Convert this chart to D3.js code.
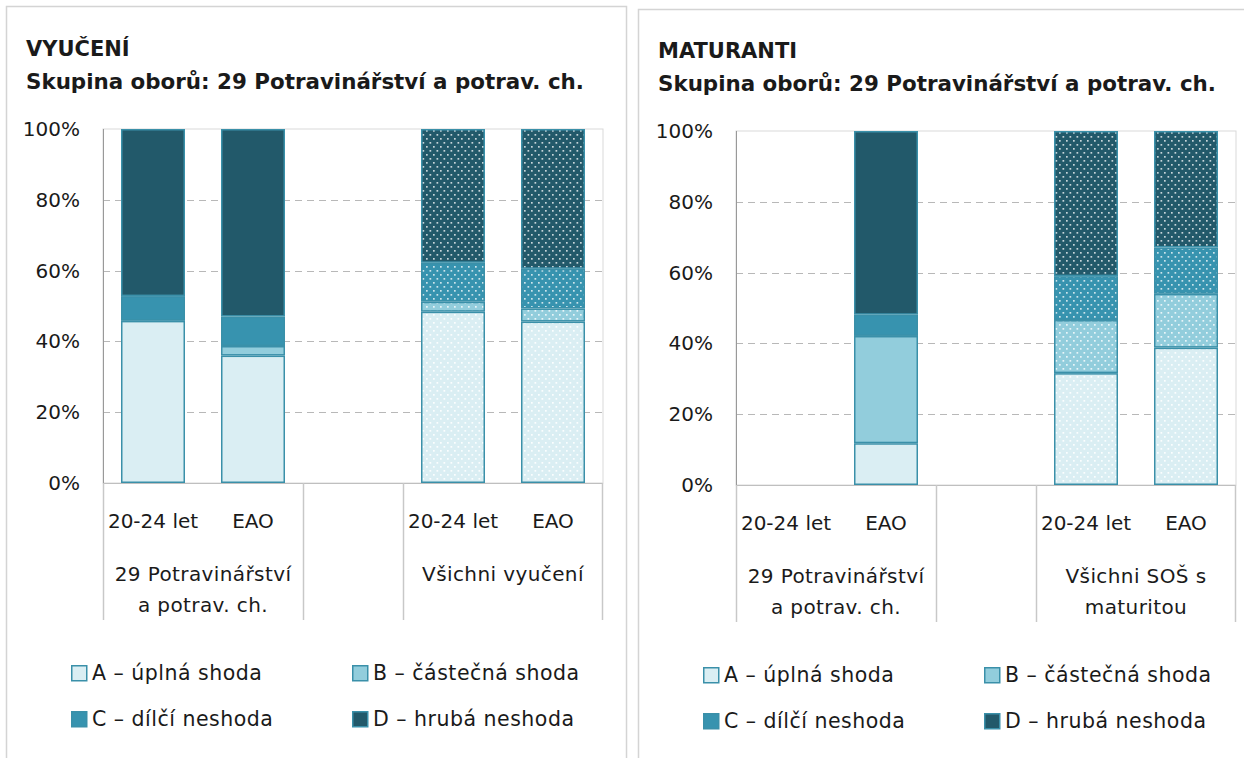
<!DOCTYPE html>
<html>
<head>
<meta charset="utf-8">
<script src="https://cdn.jsdelivr.net/npm/d3@7"></script>
<style>
  body { margin: 0; background: #fff; }
  text { font-family: "DejaVu Sans", sans-serif; fill: #1a1a1a; }
</style>
</head>
<body>
<div id="chart"></div>
<script>
// shared
var keys = ['A', 'B', 'C', 'D'];
var legendLabels = ['A – úplná shoda', 'B – částečná shoda', 'C – dílčí neshoda', 'D – hrubá neshoda'];
var yTicks = [0, 20, 40, 60, 80, 100];
var slotLabels = ['20-24 let', 'EAO', '', '20-24 let', 'EAO'];
var dotted = [false, false, false, true, true];

// VYUČENÍ (percent per slot, null = no bar)
var vyuceniA = [45.8, 36.0, null, 48.4, 45.6];
var vyuceniB = [0, 2.7, null, 2.8, 3.7];
var vyuceniC = [7.0, 8.3, null, 11.0, 11.2];
var vyuceniD = [47.2, 53.0, null, 37.8, 39.5];
var vyuceniGroups = [['29 Potravinářství', 'a potrav. ch.'], [], ['Všichni vyučení']];

// MATURANTI
var maturantiA = [null, 11.8, null, 31.6, 38.8];
var maturantiB = [null, 30.3, null, 15.0, 15.2];
var maturantiC = [null, 6.0, null, 12.4, 13.1];
var maturantiD = [null, 51.9, null, 41.0, 32.9];
var maturantiGroups = [['29 Potravinářství', 'a potrav. ch.'], [], ['Všichni SOŠ s', 'maturitou']];

var groupSpans = [[0, 2], [2, 3], [3, 5]];

var W = 1244, H = 758;
var plotW = 500, plotH = 354;

var color = d3.scaleOrdinal()
    .domain(keys)
    .range(['#daeef3', '#92cddc', '#3793af', '#22596a']);
var dotOpacity = {A: 0.9, B: 0.8, C: 0.75, D: 0.75};

var svg = d3.select('#chart').append('svg')
    .attr('width', W)
    .attr('height', H);

// dotted patterns for the "Všichni" bars
var defs = svg.append('defs');
keys.forEach(function(k) {
  var p = defs.append('pattern')
      .attr('id', 'dots-' + k)
      .attr('patternUnits', 'userSpaceOnUse')
      .attr('width', 7)
      .attr('height', 8);
  p.append('rect').attr('width', 7).attr('height', 8).attr('fill', color(k));
  p.append('rect').attr('x', 1).attr('y', 1).attr('width', 1.7).attr('height', 1.7)
      .attr('fill', '#fff').attr('opacity', dotOpacity[k]);
  p.append('rect').attr('x', 4.5).attr('y', 5).attr('width', 1.7).attr('height', 1.7)
      .attr('fill', '#fff').attr('opacity', dotOpacity[k]);
});

function buildRows(a, b, c, d) {
  return slotLabels.map(function(lbl, i) {
    return {slot: i, A: a[i], B: b[i], C: c[i], D: d[i], empty: a[i] === null};
  });
}

var panels = [
  {title: 'VYUČENÍ', rows: buildRows(vyuceniA, vyuceniB, vyuceniC, vyuceniD), groups: vyuceniGroups,
   frame: [6, 6, 620, 770], plot: [103, 129], dy: 0},
  {title: 'MATURANTI', rows: buildRows(maturantiA, maturantiB, maturantiC, maturantiD), groups: maturantiGroups,
   frame: [638, 9, 620, 770], plot: [736, 131], dy: 2}
];

var stack = d3.stack().keys(keys);

panels.forEach(function(pn) {
  // frame
  svg.append('rect')
    .attr('x', pn.frame[0] + 0.5).attr('y', pn.frame[1] + 0.5)
    .attr('width', pn.frame[2]).attr('height', pn.frame[3])
    .attr('fill', 'none').attr('stroke', '#d4d4d4').attr('stroke-width', 1.5);

  // titles
  svg.append('text')
    .attr('x', pn.frame[0] + 20).attr('y', 56 + pn.dy)
    .style('font-weight', 'bold').style('font-size', '21px')
    .text(pn.title);
  svg.append('text')
    .attr('x', pn.frame[0] + 20).attr('y', 89 + pn.dy)
    .style('font-weight', 'bold').style('font-size', '21.4px')
    .text('Skupina oborů: 29 Potravinářství a potrav. ch.');

  var g = svg.append('g')
    .attr('transform', 'translate(' + pn.plot[0] + ',' + pn.plot[1] + ')');

  var x = d3.scaleBand()
      .domain(d3.range(slotLabels.length))
      .range([0, plotW])
      .paddingInner(0.36)
      .paddingOuter(0.18);
  var xs = d3.scaleBand()
      .domain(d3.range(slotLabels.length))
      .range([0, plotW]);
  var y = d3.scaleLinear().domain([0, 100]).range([plotH, 0]);

  // plot border
  g.append('rect')
    .attr('x', 0).attr('y', 0).attr('width', plotW).attr('height', plotH)
    .attr('fill', 'none').attr('stroke', '#d9d9d9');

  // dashed gridlines
  g.selectAll('.grid')
    .data(yTicks.filter(function(t) { return t > 0 && t < 100; }))
      .enter().append('line')
    .attr('x1', 0).attr('x2', plotW)
    .attr('y1', function(d) { return Math.round(y(d)) + 0.5; })
    .attr('y2', function(d) { return Math.round(y(d)) + 0.5; })
    .attr('stroke', '#b8b8b8').attr('stroke-dasharray', '7,5');

  // bars
  var series = stack(pn.rows.filter(function(r) { return !r.empty; }));
  g.selectAll('.layer')
    .data(series)
      .enter().append('g')
    .selectAll('rect')
    .data(function(s) {
      return s.filter(function(d) { return d[1] - d[0] > 0; })
              .map(function(d) { d.key = s.key; return d; });
    })
      .enter().append('rect')
    .attr('x', function(d) { return x(d.data.slot) + 0.75; })
    .attr('y', function(d) { return y(d[1]) + 0.75; })
    .attr('width', x.bandwidth() - 1.5)
    .attr('height', function(d) { return y(d[0]) - y(d[1]) - 1.5; })
    .attr('fill', function(d) { return dotted[d.data.slot] ? 'url(#dots-' + d.key + ')' : color(d.key); })
    .attr('stroke', '#3a90a9')
    .attr('stroke-width', 1.5);

  // y axis
  g.append('line')
    .attr('x1', 0.5).attr('x2', 0.5).attr('y1', 0).attr('y2', plotH)
    .attr('stroke', '#999');
  g.selectAll('.ylab')
    .data(yTicks)
      .enter().append('text')
    .attr('x', -23)
    .attr('y', function(d) { return y(d) + 7; })
    .attr('text-anchor', 'end')
    .style('font-size', '20px')
    .text(function(d) { return d + '%'; });

  // x axis line and category separators
  g.append('line')
    .attr('x1', 0).attr('x2', plotW).attr('y1', plotH + 0.5).attr('y2', plotH + 0.5)
    .attr('stroke', '#bfbfbf');
  var seps = [0].concat(groupSpans.map(function(s) { return s[1]; }));
  g.selectAll('.sep')
    .data(seps)
      .enter().append('line')
    .attr('x1', function(d) { return d === slotLabels.length ? plotW - 0.5 : xs(d) + 0.5; })
    .attr('x2', function(d) { return d === slotLabels.length ? plotW - 0.5 : xs(d) + 0.5; })
    .attr('y1', plotH).attr('y2', plotH + 137)
    .attr('stroke', '#c8c8c8').attr('stroke-width', 1.5);

  g.selectAll('.xlab')
    .data(slotLabels)
      .enter().append('text')
    .attr('x', function(d, i) { return xs(i) + xs.bandwidth() / 2; })
    .attr('y', plotH + 45)
    .attr('text-anchor', 'middle')
    .style('font-size', '20px')
    .text(function(d) { return d; });

  pn.groups.forEach(function(lines, gi) {
    var span = groupSpans[gi];
    var cx = (xs(span[0]) + xs(span[1] - 1) + xs.bandwidth()) / 2;
    lines.forEach(function(t, li) {
      g.append('text')
        .attr('x', cx)
        .attr('y', plotH + 98 + li * 31)
        .attr('text-anchor', 'middle')
        .style('font-size', '20px')
        .style('letter-spacing', '0.4px')
        .text(t);
    });
  });

  // legend
  var lg = svg.append('g')
    .attr('transform', 'translate(' + (pn.frame[0] + 65) + ',' + (665 + pn.dy) + ')');
  var item = lg.selectAll('.item')
    .data(keys)
      .enter().append('g')
    .attr('transform', function(d, i) { return 'translate(' + (i % 2) * 281 + ',' + Math.floor(i / 2) * 46 + ')'; });
  item.append('rect')
    .attr('x', 0.75).attr('y', 0.75).attr('width', 15).attr('height', 15)
    .attr('fill', function(d) { return color(d); })
    .attr('stroke', '#3a90a9').attr('stroke-width', 1.5);
  item.append('text')
    .attr('x', 21).attr('y', 15)
    .style('font-size', '20.5px')
    .style('letter-spacing', '0.5px')
    .text(function(d, i) { return legendLabels[i]; });
});
</script>
</body>
</html>
